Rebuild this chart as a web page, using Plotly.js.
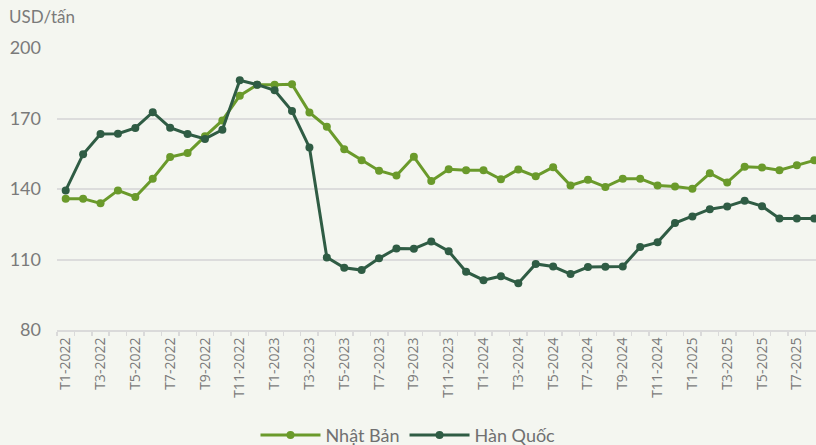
<!DOCTYPE html>
<html>
<head>
<meta charset="utf-8">
<script src="https://cdn.plot.ly/plotly-3.0.1.min.js"></script>
<style>html,body{margin:0;padding:0;background:#F4F6F0;}#chart{width:816px;height:445px;}</style>
</head>
<body>
<div id="chart"></div>
<script>
const months = [];
for (const y of [2022, 2023, 2024, 2025]) {
  for (let m = 1; m <= 12; m++) {
    if (y === 2025 && m > 8) break;
    months.push('T' + m + '-' + y);
  }
}
const nhatBan = [135.9,135.9,133.9,139.4,136.6,144.4,153.6,155.3,162.4,169.2,
  179.7,184.4,184.4,184.6,172.6,166.5,156.9,152.2,147.8,145.7,
  153.7,143.4,148.4,148.0,148.0,144.1,148.3,145.4,149.3,141.5,
  143.9,140.9,144.4,144.4,141.5,141.1,140.1,146.7,142.8,149.5,
  149.2,148.0,150.1,152.2];
const hanQuoc = [139.4,154.8,163.4,163.5,166.0,172.7,166.1,163.4,161.3,165.2,
  186.3,184.4,182.0,173.2,157.7,110.9,106.5,105.5,110.5,114.7,
  114.6,117.7,113.5,104.8,101.2,102.9,99.9,108.1,107.0,103.8,
  106.8,106.9,107.0,115.3,117.3,125.5,128.3,131.4,132.6,135.0,
  132.7,127.5,127.5,127.5];
const tickText = months.map((m, i) => i % 2 === 0 ? m : '');

const traces = [
  {x: months, y: nhatBan, name: 'Nhật Bản', type: 'scatter', mode: 'lines+markers', cliponaxis: true,
   line: {color: '#6A9A2B', width: 3}, marker: {color: '#6A9A2B', size: 8}},
  {x: months, y: hanQuoc, name: 'Hàn Quốc', type: 'scatter', mode: 'lines+markers', cliponaxis: true,
   line: {color: '#2F5C44', width: 3}, marker: {color: '#2F5C44', size: 8}}
];
const layout = {
  width: 816, height: 445,
  paper_bgcolor: '#F4F6F0', plot_bgcolor: '#F4F6F0',
  margin: {l: 57, r: 0, t: 48, b: 115},
  font: {family: 'Lato, "Open Sans", sans-serif', color: '#7A7A7A'},
  showlegend: true,
  legend: {orientation: 'h', x: 0.5, xanchor: 'center', xref: 'container', yref: 'container', y: 0.022, yanchor: 'middle',
           font: {size: 18, color: '#707070'}, itemwidth: 60, traceorder: 'normal'},
  xaxis: {type: 'category', range: [-0.5, 43.1], tickmode: 'array', tickvals: months, ticktext: tickText,
          tickangle: -90, tickson: 'boundaries', ticks: 'outside', ticklen: 4, tickcolor: '#DADADA', tickwidth: 1.5,
          showline: true, linecolor: '#DADADA', linewidth: 2, showgrid: false, zeroline: false,
          tickfont: {family: '"Open Sans", sans-serif', size: 14, color: '#7A7A7A'}},
  yaxis: {range: [80, 200], tickvals: [80, 110, 140, 170, 200], showgrid: true, gridcolor: '#DCDCDC', gridwidth: 2,
          zeroline: false, showline: false, ticks: '', ticklabelstandoff: 15,
          tickfont: {size: 18, color: '#7A7A7A'}},
  annotations: [{text: 'USD/tấn', xref: 'paper', yref: 'paper', x: 0, xshift: -50, y: 1.113,
                 xanchor: 'left', yanchor: 'middle', showarrow: false, font: {size: 17, color: '#7A7A7A'}}]
};
Plotly.newPlot('chart', traces, layout, {displayModeBar: false, staticPlot: true});
</script>
</body>
</html>
